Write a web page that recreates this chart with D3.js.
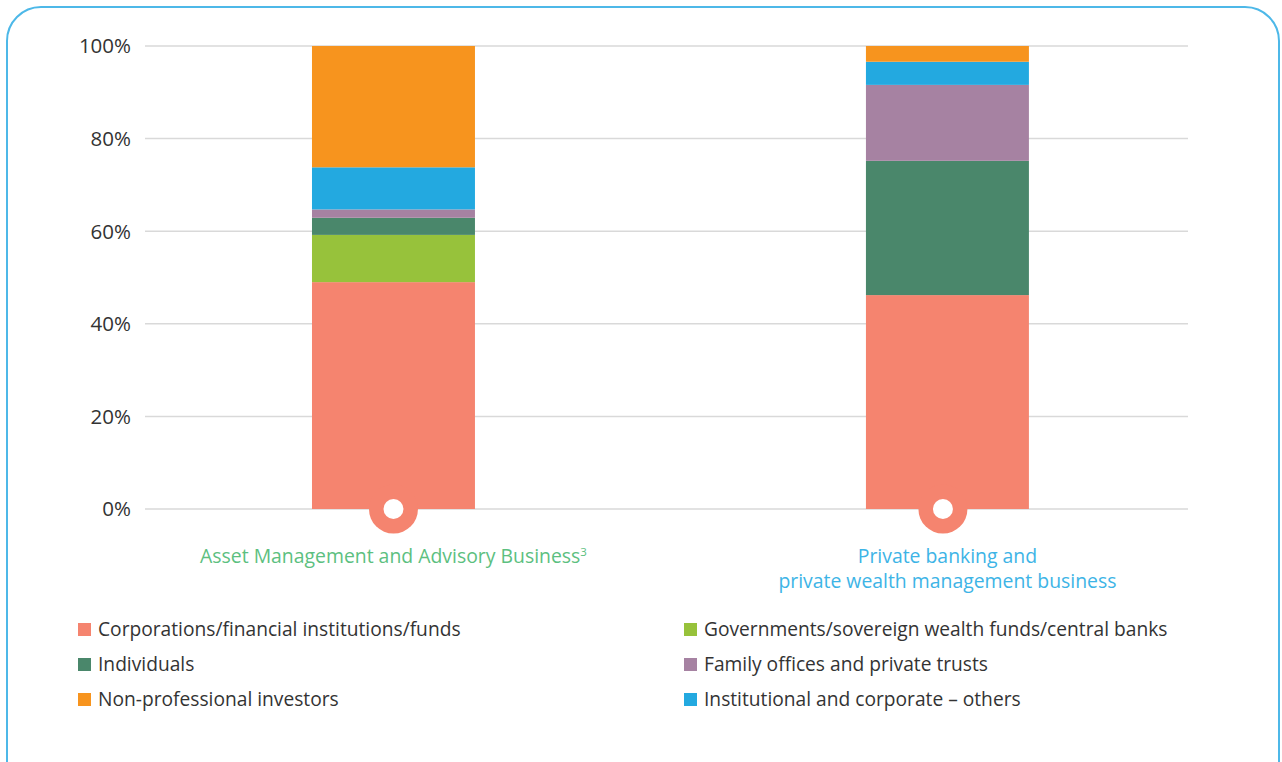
<!DOCTYPE html>
<html>
<head>
<meta charset="utf-8">
<script src="https://cdn.jsdelivr.net/npm/d3@7"></script>
<style>
  body { margin: 0; background: #fff; }
  svg text { font-family: "Open Sans", "Noto Sans", sans-serif; }
</style>
</head>
<body>
<svg id="chart" width="1282" height="762"></svg>
<script>
// data (percent of each business)
const categories = ["Asset Management and Advisory Business", "Private banking and private wealth management business"];
const seriesNames = [
  "Corporations/financial institutions/funds",
  "Governments/sovereign wealth funds/central banks",
  "Individuals",
  "Family offices and private trusts",
  "Institutional and corporate \u2013 others",
  "Non-professional investors"
];
const corporations = [49.0, 46.2];
const governments = [10.2, 0];
const individuals = [3.7, 29.0];
const familyOffices = [1.8, 16.4];
const institutional = [9.1, 5.0];
const nonProfessional = [26.2, 3.4];
const yTicks = [0, 20, 40, 60, 80, 100];
// legend reads row by row, two columns
const legendOrder = [0, 1, 2, 3, 5, 4];

const colors = ["#f5846f", "#97c23b", "#4a876b", "#a682a2", "#23a9e0", "#f7941e"];
const seriesValues = [corporations, governments, individuals, familyOffices, institutional, nonProfessional];

const rows = categories.map((c, i) => {
  const r = {cat: c};
  seriesNames.forEach((s, j) => r[s] = seriesValues[j][i]);
  return r;
});

const svg = d3.select("#chart");

// rounded frame
svg.append("rect")
  .attr("x", 7).attr("y", 7).attr("width", 1272).attr("height", 790)
  .attr("rx", 34).attr("ry", 34)
  .attr("fill", "none").attr("stroke", "#4db8e8").attr("stroke-width", 2);

const x = d3.scaleBand().domain(categories).range([145.8, 1195.1]).paddingInner(0.7058).paddingOuter(0.3);
const y = d3.scaleLinear().domain([0, 100]).range([509, 46]);

// grid
svg.append("g")
  .selectAll("line")
  .data(yTicks)
  .join("line")
    .attr("x1", 145).attr("x2", 1188)
    .attr("y1", d => y(d)).attr("y2", d => y(d))
    .attr("stroke", "#d9d9d9").attr("stroke-width", 1.5);

const yAxis = d3.axisLeft(y).tickValues(yTicks).tickFormat(d => d + "%").tickSize(0).tickPadding(0);
const ya = svg.append("g").attr("transform", "translate(131,0)").call(yAxis);
ya.select(".domain").remove();
ya.selectAll("text")
  .attr("font-size", 20.5).attr("fill", "#333")
  .attr("font-family", "'Open Sans', sans-serif")
  .attr("dy", "0.34em");

// stacks
const stack = d3.stack().keys(seriesNames)(rows);
svg.append("g")
  .selectAll("g")
  .data(stack)
  .join("g")
    .attr("fill", (d, i) => colors[i])
  .selectAll("rect")
  .data(d => d)
  .join("rect")
    .attr("x", d => x(d.data.cat))
    .attr("width", x.bandwidth())
    .attr("y", d => y(d[1]))
    .attr("height", d => y(d[0]) - y(d[1]));

// bottom markers (second one sits a touch left of the bar centre in the original)
const markerShift = [0, -4.5];
const mk = svg.append("g").selectAll("g").data(categories).join("g")
  .attr("transform", (d, i) => `translate(${x(d) + x.bandwidth() / 2 + markerShift[i]},${y(0)})`);
mk.append("circle").attr("r", 24.5).attr("fill", colors[0]);
mk.append("circle").attr("r", 10).attr("fill", "#fff");

// category labels
const labelColors = ["#5cc07f", "#3db4e6"];
const labelLines = [["Asset Management and Advisory Business"], ["Private banking and", "private wealth management business"]];
categories.forEach((c, i) => {
  const cx = x(c) + x.bandwidth() / 2;
  const t = svg.append("text")
    .attr("x", cx)
    .attr("y", 563)
    .attr("text-anchor", "middle")
    .attr("font-size", 19.4)
    .attr("fill", labelColors[i]);
  labelLines[i].forEach((ln, k) => {
    t.append("tspan").attr("x", cx).attr("dy", k === 0 ? 0 : 25).text(ln);
  });
  if (i === 0) {
    t.append("tspan").attr("font-size", 11.5).attr("dy", -7).text("3");
  }
});

// legend
const legend = svg.append("g").selectAll("g").data(legendOrder).join("g")
  .attr("transform", (d, i) => `translate(${i % 2 === 0 ? 78 : 684},${629 + Math.floor(i / 2) * 35})`);
legend.append("rect").attr("x", 0).attr("y", -6).attr("width", 13).attr("height", 13)
  .attr("fill", d => colors[d]);
legend.append("text").attr("x", 20).attr("y", 0).attr("dy", "0.35em")
  .attr("font-size", 19.2).attr("fill", "#333").text(d => seriesNames[d]);
</script>
</body>
</html>
